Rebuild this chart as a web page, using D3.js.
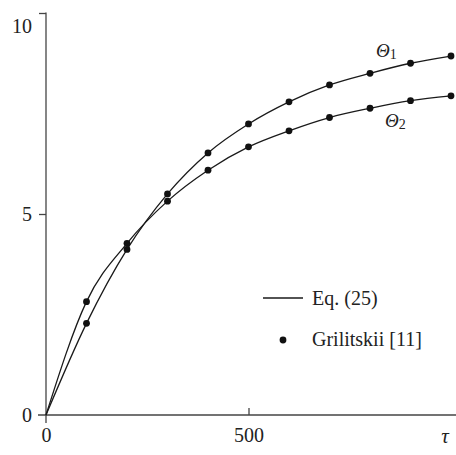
<html><head><meta charset="utf-8"><script src="https://cdn.jsdelivr.net/npm/d3@7/dist/d3.min.js"></script></head>
<body style="margin:0">
<svg id="chart" width="456" height="455"></svg>
<script>
// data
var tau = [0, 100, 200, 300, 400, 500, 600, 700, 800, 900, 1000]
var theta1 = [0, 2.28, 4.12, 5.50, 6.52, 7.24, 7.79, 8.21, 8.50, 8.75, 8.93]
var theta2 = [0, 2.82, 4.27, 5.32, 6.09, 6.67, 7.07, 7.40, 7.63, 7.82, 7.94]
var xTicks = [0, 500]
var yTicks = [0, 5, 10]
var curveLabels = [
    {sub: '1', tau: 815, value: 8.9},
    {sub: '2', tau: 837, value: 7.16}
]
var legendItems = ['Eq. (25)', 'Grilitskii [11]']

var textColor = '#222'
var serifFont = function() { return "'Liberation Serif'" }
var svg = d3.select('#chart')
var x = d3.scaleLinear().domain([0, 1000]).range([46, 451])
var y = d3.scaleLinear().domain([0, 10]).range([415, 13])
var axisColor = '#444'

// axis lines (the 0 ticks are just the axes poking past the origin)
svg.append('line')
    .attr('x1', x(0) - 8).attr('x2', 456)
    .attr('y1', y(0)).attr('y2', y(0))
    .attr('stroke', axisColor).attr('stroke-width', 1.3)
svg.append('line')
    .attr('x1', x(0)).attr('x2', x(0))
    .attr('y1', y(10) - 0.5).attr('y2', y(0) + 8)
    .attr('stroke', axisColor).attr('stroke-width', 1.3)

var xAxis = svg.append('g')
    .attr('transform', 'translate(0,' + y(0) + ')')
    .call(d3.axisBottom(x).tickValues(xTicks).tickSize(-7).tickPadding(0))
    .attr('font-family', null).attr('font-size', null)
xAxis.select('.domain').remove()
xAxis.selectAll('.tick line')
    .attr('stroke', axisColor).attr('stroke-width', 1.3)
    .attr('display', function(d) { return d == 0 ? 'none' : null })
xAxis.selectAll('.tick text')
    .attr('y', 27).attr('dy', 0)
    .attr('fill', textColor)
    .attr('font-size', 20)
    .style('font-family', serifFont)

var yAxis = svg.append('g')
    .attr('transform', 'translate(' + x(0) + ',0)')
    .call(d3.axisLeft(y).tickValues(yTicks).tickSize(7).tickPadding(0))
    .attr('font-family', null).attr('font-size', null)
yAxis.select('.domain').remove()
yAxis.selectAll('.tick line')
    .attr('stroke', axisColor).attr('stroke-width', 1.3)
    .attr('display', function(d) { return d == 0 ? 'none' : null })
yAxis.selectAll('.tick text')
    .attr('x', -14)
    // FIXME: top label sits lower than its tick in the original
    .attr('dy', function(d) { return d == 10 ? '0.98em' : '0.34em' })
    .attr('fill', textColor)
    .attr('font-size', 20)
    .style('font-family', serifFont)

// axis title
svg.append('text')
    .attr('x', 445).attr('y', 443)
    .attr('text-anchor', 'middle')
    .attr('fill', textColor)
    .attr('font-size', 21).attr('font-style', 'italic')
    .style('font-family', serifFont)
    .text('τ')

// curves
var line = d3.line()
    .x(function(d, i) { return x(tau[i]) })
    .y(function(d) { return y(d) })
    .curve(d3.curveMonotoneX)

;[theta1, theta2].forEach(function(series) {
    svg.append('path')
        .datum(series)
        .attr('d', line)
        .attr('fill', 'none')
        .attr('stroke', '#1a1a1a')
        .attr('stroke-width', 1.3)
    svg.append('g').selectAll('circle')
        .data(series.slice(1))
        .enter().append('circle')
            .attr('cx', function(d, i) { return x(tau[i + 1]) })
            .attr('cy', function(d) { return y(d) })
            .attr('r', 3.4)
            .attr('fill', '#111')
})

// curve labels
curveLabels.forEach(function(l) {
    var t = svg.append('text')
        .attr('x', x(l.tau)).attr('y', y(l.value))
        .attr('fill', textColor)
        .attr('font-size', 19)
        .style('font-family', serifFont)
    t.append('tspan').attr('font-style', 'italic').text('Θ')
    t.append('tspan').attr('dy', 2).attr('font-size', 14).text(l.sub)
})

// legend
svg.append('line')
    .attr('x1', 263).attr('x2', 303)
    .attr('y1', 298).attr('y2', 298)
    .attr('stroke', '#1a1a1a').attr('stroke-width', 1.3)
svg.append('circle')
    .attr('cx', 283).attr('cy', 340).attr('r', 3.4)
    .attr('fill', '#111')
svg.selectAll('.legend-text')
    .data(legendItems)
    .enter().append('text')
        .attr('class', 'legend-text')
        .attr('x', 312)
        .attr('y', function(d, i) { return 305 + i * 41 })
        .attr('fill', textColor)
        .attr('font-size', 20)
        .style('font-family', serifFont)
        .text(function(d) { return d })
</script>
</body>
</html>
